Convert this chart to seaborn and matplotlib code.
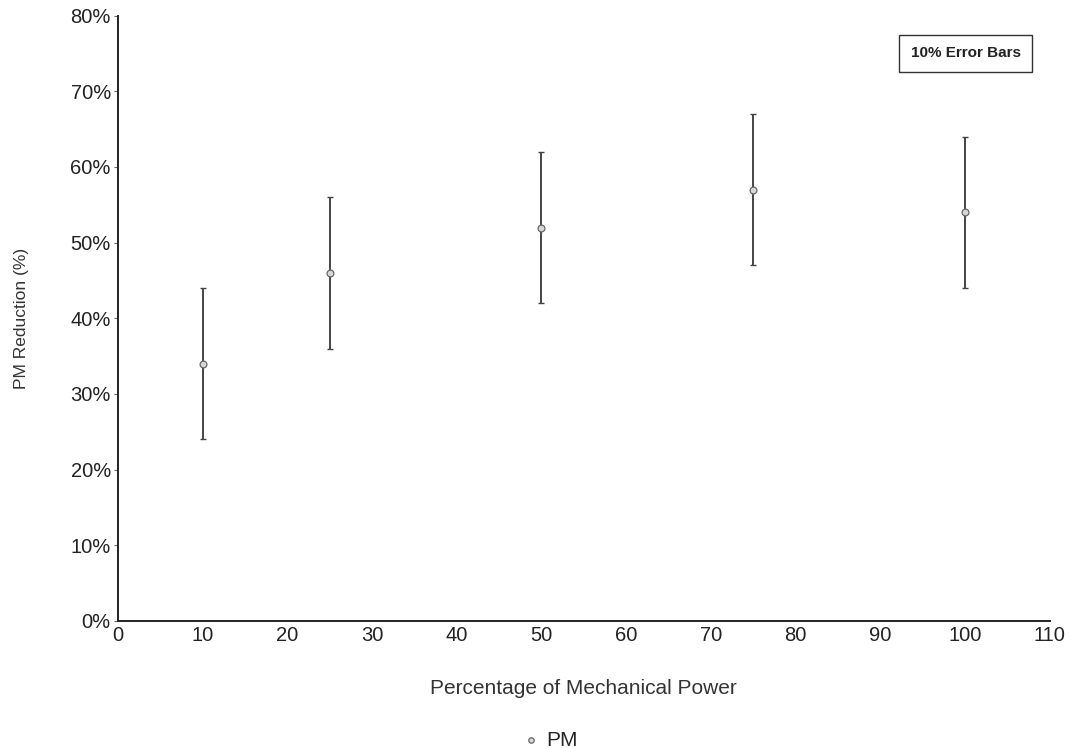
import matplotlib
matplotlib.use("Agg")
import matplotlib.pyplot as plt
import seaborn as sns
import pandas as pd
import numpy as np
from matplotlib.ticker import PercentFormatter, MultipleLocator

power = [10, 25, 50, 75, 100]
pm_reduction = [34, 46, 52, 57, 54]
error = [10, 10, 10, 10, 10]

sns.set_theme(style="white")
plt.rcParams['font.family'] = ['Liberation Sans', 'DejaVu Sans']

df = pd.DataFrame({"power": power, "PM": pm_reduction})

fig = plt.figure(figsize=(10.71, 7.48), dpi=100)
ax = fig.add_axes([0.110, 0.170, 0.870, 0.809])

ax.errorbar(power, pm_reduction, yerr=error, fmt="none", ecolor="#444444",
            elinewidth=1.4, capsize=2, capthick=1.0, zorder=2)
sns.scatterplot(data=df, x="power", y="PM", ax=ax, marker="o", s=24,
                facecolor="#d8d8d8", edgecolor="#666666", linewidth=0.9,
                label="PM", zorder=3)

ax.set_xlim(0, 110)
ax.set_ylim(0, 80)
ax.xaxis.set_major_locator(MultipleLocator(10))
ax.yaxis.set_major_locator(MultipleLocator(10))
ax.yaxis.set_major_formatter(PercentFormatter(decimals=0))

for s in ["top", "right"]:
    ax.spines[s].set_visible(False)
for s in ["left", "bottom"]:
    ax.spines[s].set_color("#222222")
    ax.spines[s].set_linewidth(1.4)

ax.tick_params(axis="y", which="major", length=3, width=0.8, color="#666666",
               direction="out", left=True, labelsize=14.5, labelcolor="#222222", pad=2)
ax.tick_params(axis="x", which="major", length=0, labelsize=14.5,
               labelcolor="#222222", pad=4)

ax.set_xlabel("Percentage of Mechanical Power", fontsize=15, color="#333333", labelpad=24)
ax.set_ylabel("PM Reduction (%)", fontsize=12.5, color="#333333", labelpad=30)

ax.text(0.910, 0.938, "10% Error Bars", transform=ax.transAxes, ha="center", va="center",
        fontsize=11, fontweight="bold", color="#222222",
        bbox=dict(boxstyle="square,pad=0.75", facecolor="white", edgecolor="#333333", linewidth=1.0))

leg = ax.legend(loc="center", bbox_to_anchor=(0.462, -0.197), frameon=False,
                fontsize=15, handletextpad=0.1, handlelength=1.2, markerscale=0.8)

fig.savefig("out.png", dpi=100)
